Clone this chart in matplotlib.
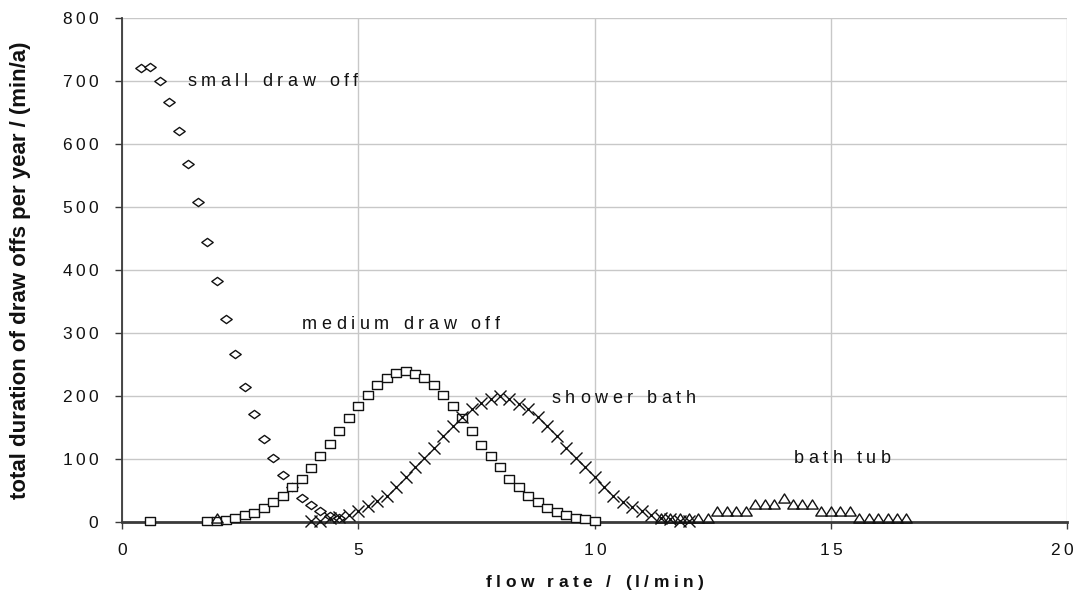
import matplotlib
matplotlib.use("Agg")
import matplotlib.pyplot as plt
from matplotlib.path import Path
from matplotlib.font_manager import FontProperties
from matplotlib.textpath import TextToPath
from matplotlib.transforms import offset_copy, blended_transform_factory

# ---- data -------------------------------------------------------------
small_x = [0.4, 0.6, 0.8, 1.0, 1.2, 1.4, 1.6, 1.8, 2.0, 2.2, 2.4, 2.6, 2.8,
           3.0, 3.2, 3.4, 3.6, 3.8, 4.0, 4.2, 4.4, 4.6]
small_y = [720, 722, 700, 667, 621, 568, 508, 445, 383, 322, 267, 215, 171,
           132, 101, 75, 55, 38, 27, 17, 10, 6]

medium_x = [0.6, 1.8, 2.0, 2.2, 2.4, 2.6, 2.8, 3.0, 3.2, 3.4, 3.6, 3.8, 4.0,
            4.2, 4.4, 4.6, 4.8, 5.0, 5.2, 5.4, 5.6, 5.8, 6.0, 6.2, 6.4, 6.6,
            6.8, 7.0, 7.2, 7.4, 7.6, 7.8, 8.0, 8.2, 8.4, 8.6, 8.8, 9.0, 9.2,
            9.4, 9.6, 9.8, 10.0]
medium_y = [1, 1, 2, 3, 7, 11, 15, 22, 32, 42, 55, 69, 86,
            105, 124, 144, 165, 184, 201, 217, 228, 236, 240, 235, 228, 217,
            201, 184, 165, 144, 123, 105, 87, 69, 55, 42, 31, 22, 16,
            11, 7, 4, 2]

shower_x = [4.0, 4.2, 4.4, 4.6, 4.8, 5.0, 5.2, 5.4, 5.6, 5.8, 6.0, 6.2, 6.4,
            6.6, 6.8, 7.0, 7.2, 7.4, 7.6, 7.8, 8.0, 8.2, 8.4, 8.6, 8.8, 9.0,
            9.2, 9.4, 9.6, 9.8, 10.0, 10.2, 10.4, 10.6, 10.8, 11.0, 11.2,
            11.4, 11.6, 11.8, 12.0]
shower_y = [1, 2, 6, 8, 11, 18, 26, 33, 41, 56, 72, 88, 102,
            117, 137, 153, 167, 179, 189, 195, 200, 195, 188, 179, 167, 153,
            137, 117, 102, 88, 72, 56, 42, 31, 24, 18, 11,
            7, 5, 1, 1]

bath_x = [2.0, 11.4, 11.6, 11.8, 12.0, 12.2, 12.4, 12.6, 12.8, 13.0, 13.2,
          13.4, 13.6, 13.8, 14.0, 14.2, 14.4, 14.6, 14.8, 15.0, 15.2, 15.4,
          15.6, 15.8, 16.0, 16.2, 16.4, 16.6]
bath_y = [7, 7, 7, 7, 7, 7, 7, 18, 18, 18, 18,
          28, 28, 28, 38, 28, 28, 28, 18, 18, 18, 18,
          7, 7, 7, 7, 7, 7]

x_ticks = [0, 5, 10, 15, 20]
y_ticks = [0, 100, 200, 300, 400, 500, 600, 700, 800]

series_labels = ["small draw off", "medium draw off", "shower bath", "bath tub"]
label_pos = [(1.38, 692), (3.81, 306), (9.09, 189), (14.21, 93)]

x_title = "flow rate / (l/min)"
y_title = "total duration of draw offs per year / (min/a)"

# ---- helpers ----------------------------------------------------------
FONT = "Liberation Sans"
_t2p = TextToPath()


def _advance(ch, prop):
    w_pair = _t2p.get_text_width_height_descent("||", prop, ismath=False)[0]
    w_mid = _t2p.get_text_width_height_descent("|" + ch + "|", prop, ismath=False)[0]
    return w_mid - w_pair


def spaced_text(fig, ax, x, y, s, size, track, transform, ha="left",
                dx=0.0, dy=0.0, weight="normal", color="#111111"):
    """Draw text with extra letter spacing (track, in points)."""
    prop = FontProperties(family=FONT, size=size, weight=weight)
    adv = [_advance(c, prop) for c in s]
    total = sum(adv) + track * (len(s) - 1)
    if ha == "center":
        start = -total / 2
    elif ha == "right":
        start = -total
    else:
        start = 0.0
    off = start + dx
    for c, a in zip(s, adv):
        if c != " ":
            tr = offset_copy(transform, fig=fig, x=off, y=dy, units="points")
            ax.text(x, y, c, transform=tr, fontproperties=prop, ha="left",
                    va="baseline", color=color, clip_on=False)
        off += a + track


def shape(verts):
    return Path(verts + [verts[0]], closed=True)


diamond = shape([(-1.0, 0.0), (0.0, 0.72), (1.0, 0.0), (0.0, -0.72)])
square = shape([(-1.0, -0.85), (1.0, -0.85), (1.0, 0.85), (-1.0, 0.85)])
triangle = shape([(0.0, 0.8), (-1.0, -0.8), (1.0, -0.8)])

# ---- figure -----------------------------------------------------------
fig = plt.figure(figsize=(10.76, 6.03), dpi=100)
ax = fig.add_axes([0.1134, 0.1343, 0.8783, 0.8358])

ax.set_xlim(0, 20)
ax.set_ylim(0, 800)
ax.set_xticks(x_ticks)
ax.set_yticks(y_ticks)
ax.set_xticklabels([])
ax.set_yticklabels([])
ax.grid(True, color="#c8c8c8", lw=1.0, zorder=0)
ax.set_axisbelow(True)
for side in ("top", "right"):
    ax.spines[side].set_visible(False)
ax.spines["left"].set_color("#3a3a3a")
ax.spines["left"].set_linewidth(1.3)
ax.spines["bottom"].set_color("#3a3a3a")
ax.spines["bottom"].set_linewidth(2.0)
ax.tick_params(direction="out", length=5, width=1.0, color="#3a3a3a")

ink = "#111111"
ax.plot(small_x, small_y, ls="none", marker=diamond, ms=8.2, mfc="white",
        mec=ink, mew=1.0, zorder=3, clip_on=False)
ax.plot(medium_x, medium_y, ls="none", marker=square, ms=7.4, mfc="white",
        mec=ink, mew=1.0, zorder=4, clip_on=False)
ax.plot(shower_x, shower_y, ls="none", marker="x", ms=9.0, mec=ink,
        mew=1.0, zorder=5, clip_on=False)
ax.plot(bath_x, bath_y, ls="none", marker=triangle, ms=8.2, mfc="none",
        mec=ink, mew=1.0, zorder=6, clip_on=False)

# series labels
for text, (lx, ly) in zip(series_labels, label_pos):
    spaced_text(fig, ax, lx, ly, text, 13, 3.3, ax.transData)

# tick labels (the last one is nudged inward so it stays on the canvas)
bx = blended_transform_factory(ax.transData, ax.transAxes)
for t in x_ticks:
    nudge = -4.0 if t == x_ticks[-1] else 0.0
    spaced_text(fig, ax, t, 0, str(t), 12.5, 2.2, bx, ha="center",
                dx=nudge, dy=-24)
by = blended_transform_factory(ax.transAxes, ax.transData)
for t in y_ticks:
    spaced_text(fig, ax, 0, t, str(t), 12.5, 2.6,
                offset_copy(by, fig=fig, x=-17, y=0, units="points"),
                ha="right", dy=-4.5)

# axis titles
spaced_text(fig, ax, 0.5, 0, x_title, 12.5, 3.2, ax.transAxes, ha="center",
            dy=-47, weight="bold")
fig.text(0.0186, 0.552, y_title, rotation=90, ha="center", va="center",
         fontsize=16, fontweight="bold", family=FONT, color=ink)

fig.savefig("out.png", dpi=100)
